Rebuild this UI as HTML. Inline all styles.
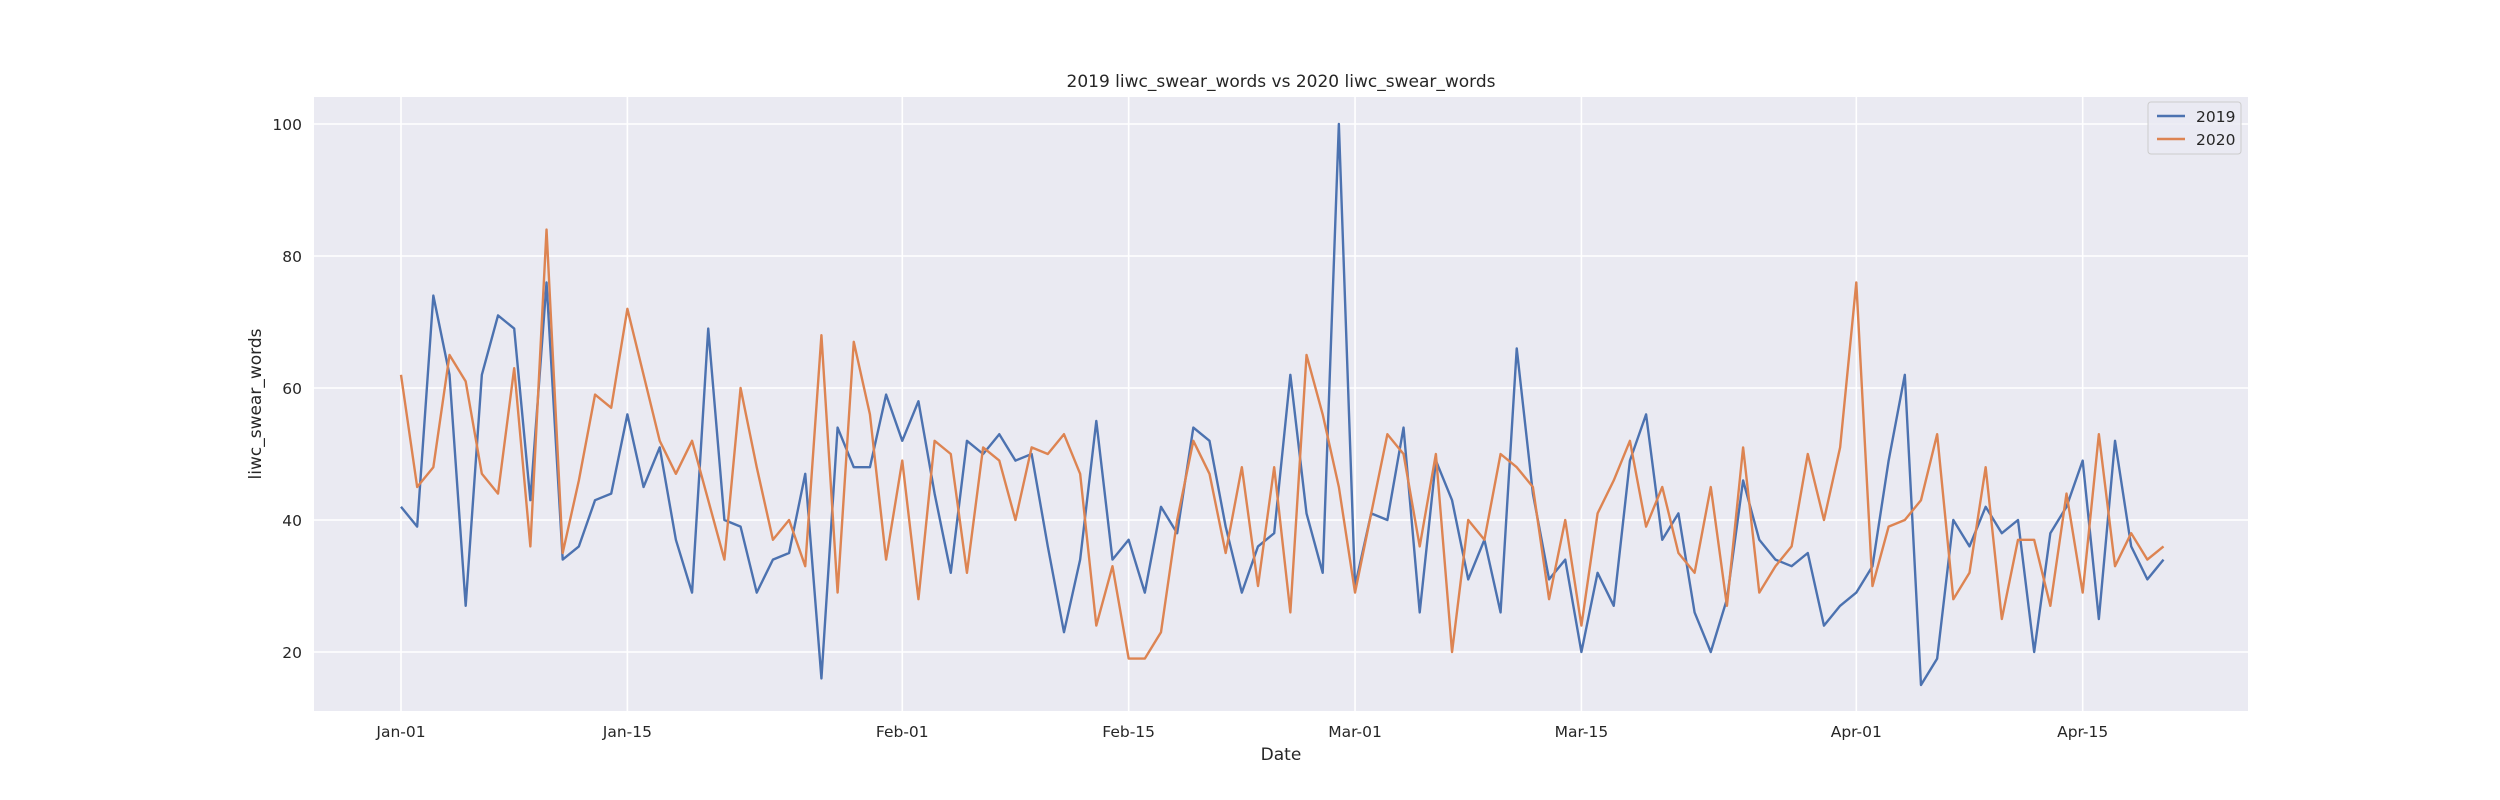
<!DOCTYPE html>
<html><head><meta charset="utf-8"><style>
html,body{margin:0;padding:0;background:#fff}
svg{display:block;font-family:"DejaVu Sans","Liberation Sans",sans-serif}
</style></head><body>
<svg id="chart" width="2500" height="800" viewBox="0 0 2500 800" xmlns="http://www.w3.org/2000/svg">
<rect x="314" y="97" width="1934" height="614" fill="#eaeaf2"/>
<g id="grid"></g>
<g id="series"></g>
<g id="ticks" fill="#262626" font-size="15.5"></g>
<text x="1281" y="87" text-anchor="middle" font-size="17" fill="#262626">2019 liwc_swear_words vs 2020 liwc_swear_words</text>
<text x="1281" y="760" text-anchor="middle" font-size="17" fill="#262626">Date</text>
<text transform="translate(261,404) rotate(-90)" text-anchor="middle" font-size="17" fill="#262626">liwc_swear_words</text>
<g>
<rect x="2148" y="102" width="93" height="52" rx="3" fill="#eaeaf2" stroke="#cccccc" stroke-width="1" fill-opacity="0.8"/>
<g><line x1="2157" y1="116" x2="2185" y2="116" stroke="#4c72b0" stroke-width="2.4"/><text x="2196" y="122" font-size="15.5" fill="#262626">2019</text></g>
<g><line x1="2157" y1="139" x2="2185" y2="139" stroke="#dd8452" stroke-width="2.4"/><text x="2196" y="145" font-size="15.5" fill="#262626">2020</text></g>
</g>
</svg>
<script>
const s2019 = [42,39,74,62,27,62,71,69,43,76,34,36,43,44,56,45,51,37,29,69,40,39,29,34,35,47,16,54,48,48,59,52,58,44,32,52,50,53,49,50,36,23,34,55,34,37,29,42,38,54,52,39,29,36,38,62,41,32,100,30,41,40,54,26,49,43,31,37,26,66,44,31,34,20,32,27,49,56,37,41,26,20,28,46,37,34,33,35,24,27,29,33,49,62,15,19,40,36,42,38,40,20,38,42,49,25,52,36,31,34];
const s2020 = [62,45,48,65,61,47,44,63,36,84,35,46,59,57,72,62,52,47,52,43,34,60,48,37,40,33,68,29,67,56,34,49,28,52,50,32,51,49,40,51,50,53,47,24,33,19,19,23,40,52,47,35,48,30,48,26,65,56,45,29,41,53,50,36,50,20,40,37,50,48,45,28,40,24,41,46,52,39,45,35,32,45,27,51,29,33,36,50,40,51,76,30,39,40,43,53,28,32,48,25,37,37,27,44,29,53,33,38,34,36];
const yTicks = [20,40,60,80,100];
const xTickLabels = ["Jan-01","Jan-15","Feb-01","Feb-15","Mar-01","Mar-15","Apr-01","Apr-15"];
const xTickDays = [0,14,31,45,59,73,90,104];

const NS="http://www.w3.org/2000/svg";
const xS = d => 401 + d*16.17;
const yS = v => 652 - (v-20)*6.6;
const grid=document.getElementById('grid'), ticks=document.getElementById('ticks'), ser=document.getElementById('series');
function mk(tag,attrs,parent){const e=document.createElementNS(NS,tag);for(const k in attrs)e.setAttribute(k,attrs[k]);parent.appendChild(e);return e;}
yTicks.forEach(v=>{
  const l=mk('line',{x1:314,x2:2248,y1:yS(v),y2:yS(v),stroke:'#fff','stroke-width':1.6},grid);
  
  
  const t=mk('text',{x:302,y:yS(v)+6,'text-anchor':'end'},ticks);
  t.textContent=v;
  
  
});
xTickDays.forEach((d,i)=>{
  const l=mk('line',{x1:xS(d),x2:xS(d),y1:97,y2:711,stroke:'#fff','stroke-width':1.6},grid);
  
  
  const t=mk('text',{x:xS(d),y:737,'text-anchor':'middle'},ticks);
  t.textContent=xTickLabels[i];
  
  
});
function line(data,color,name){
  const p=mk('polyline',{points:data.map((v,i)=>xS(i)+','+yS(v)).join(' '),fill:'none',stroke:color,'stroke-width':2.4,'stroke-linejoin':'round'},ser);
  
  
}
line(s2019,'#4c72b0','series-2019-line');
line(s2020,'#dd8452','series-2020-line');
</script>
</body></html>
